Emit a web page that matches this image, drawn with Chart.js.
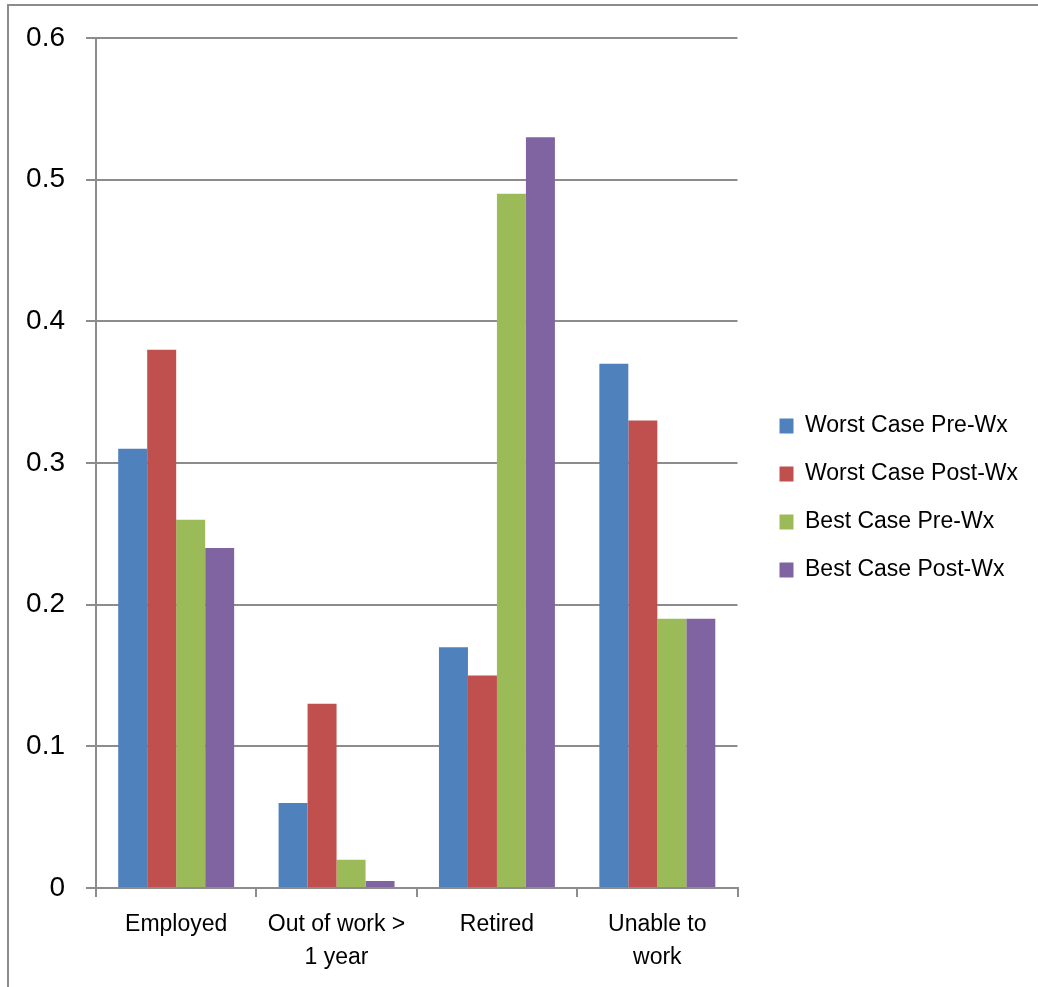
<!DOCTYPE html>
<html>
<head>
<meta charset="utf-8">
<script src="https://cdn.jsdelivr.net/npm/chart.js@4/dist/chart.umd.min.js"></script>
<style>
  html, body { margin: 0; padding: 0; background: #ffffff; }
  #wrap { position: relative; width: 1038px; height: 987px; }
  #frame { position: absolute; left: 7px; top: 4px; width: 1031px; height: 983px;
           border-top: 2px solid #8c8c8c; border-left: 2px solid #8c8c8c; pointer-events: none; box-sizing: border-box; }
  canvas { display: block; }
</style>
</head>
<body>
<div id="wrap">
  <canvas id="c" width="1038" height="987"></canvas>
  <div id="frame"></div>
</div>
<script>
const categories = ['Employed', ['Out of work >', '1 year'], 'Retired', ['Unable to', 'work']];
const seriesNames = ['Worst Case Pre-Wx', 'Worst Case Post-Wx', 'Best Case Pre-Wx', 'Best Case Post-Wx'];
const worstPre  = [0.31, 0.06, 0.17, 0.37];
const worstPost = [0.38, 0.13, 0.15, 0.33];
const bestPre   = [0.26, 0.02, 0.49, 0.19];
const bestPost  = [0.24, 0.005, 0.53, 0.19];
const yTicks = [0, 0.1, 0.2, 0.3, 0.4, 0.5, 0.6];
const colors = ['#4F81BD', '#C0504D', '#9BBB59', '#8064A2'];

const FONT = "'Liberation Sans', Arial, sans-serif";
const seriesValues = [worstPre, worstPost, bestPre, bestPost];

new Chart(document.getElementById('c'), {
  type: 'bar',
  data: {
    labels: categories,
    datasets: seriesValues.map((vals, i) => ({
      label: seriesNames[i],
      data: vals,
      backgroundColor: colors[i],
      borderWidth: 0,
      categoryPercentage: 0.723,
      barPercentage: 1.0
    }))
  },
  options: {
    responsive: false,
    animation: false,
    devicePixelRatio: 1,
    layout: { padding: { top: 38, left: 0, right: 10, bottom: 0 } },
    plugins: {
      tooltip: { enabled: false },
      legend: {
        position: 'right',
        align: 'center',
        fullSize: false,
        maxWidth: 283,
        title: { display: true, text: '', font: { size: 10, lineHeight: 1 }, padding: { top: 60, bottom: 0 } },
        labels: {
          boxWidth: 14,
          boxHeight: 15,
          padding: 25,
          color: '#000000',
          font: { family: FONT, size: 23 }
        }
      }
    },
    scales: {
      x: {
        offset: true,
        grid: { display: true, offset: true, drawOnChartArea: false, drawTicks: true, tickLength: 9, color: '#8c8c8c', lineWidth: 2 },
        border: { display: true, color: '#8c8c8c', width: 2 },
        ticks: { color: '#000000', padding: 11, maxRotation: 0, autoSkip: false, font: { family: FONT, size: 23, lineHeight: 33 / 23 } },
        afterFit: s => { s.height = 99; }
      },
      y: {
        min: 0,
        max: 0.6,
        afterBuildTicks: s => { s.ticks = yTicks.map(v => ({ value: v })); },
        grid: { color: '#8c8c8c', lineWidth: 2, drawTicks: true, tickLength: 10 },
        border: { display: true, color: '#8c8c8c', width: 2 },
        ticks: { color: '#000000', padding: 21, font: { family: FONT, size: 28 }, callback: v => String(Math.round(v * 10) / 10) },
        afterFit: s => { s.width = 96; }
      },
      gap: {
        position: 'right',
        display: true,
        grid: { display: false, drawOnChartArea: false, drawTicks: false },
        border: { display: false },
        ticks: { display: false },
        afterFit: s => { s.width = 17; }
      }
    }
  }
});
</script>
</body>
</html>
